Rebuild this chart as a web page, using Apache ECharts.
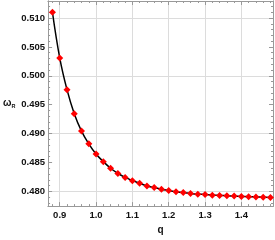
<!DOCTYPE html>
<html><head><meta charset="utf-8">
<script src="https://cdn.jsdelivr.net/npm/echarts@6/dist/echarts.min.js"></script>
<style>html,body{margin:0;padding:0;background:#fff}#c{width:275px;height:240px}</style>
</head><body><div id="c"></div>
<script>
const qValues = [0.88,0.90,0.92,0.94,0.96,0.98,1.00,1.02,1.04,1.06,1.08,1.10,1.12,1.14,1.16,1.18,1.20,1.22,1.24,1.26,1.28,1.30,1.32,1.34,1.36,1.38,1.40,1.42,1.44,1.46,1.48];
const omegaR = [0.5110,0.5031,0.4976,0.49345,0.49043,0.48822,0.48646,0.48514,0.48400,0.48310,0.48241,0.48185,0.48139,0.48093,0.48066,0.48037,0.48014,0.47991,0.47980,0.47963,0.47951,0.47945,0.47934,0.47929,0.47922,0.47917,0.47912,0.47907,0.47903,0.47899,0.47895];
const xTicks = [0.9,1.0,1.1,1.2,1.3,1.4];
const yTicks = [0.480,0.485,0.490,0.495,0.500,0.505,0.510];
const xTickLabels = ['0.9','1.0','1.1','1.2','1.3','1.4'];
const yTickLabels = ['0.480','0.485','0.490','0.495','0.500','0.505','0.510'];
const xRange = [0.868, 1.487];
const yRange = [0.47744, 0.51295];
const xMinor = []; for (let i = 44; i <= 74; i++) { if (i % 5) xMinor.push(+(i*0.02).toFixed(2)); }
const yMinor = []; for (let i = 478; i <= 512; i++) { if (i % 5) yMinor.push(+(i*0.001).toFixed(3)); }

const frameColor = '#999';
const font = {fontFamily: 'Liberation Sans', fontSize: 9.5, fontWeight: 'bold', color: '#111'};
function mkAxis(type, pos, range, ticks, isMinor, labels) {
  return {
    type: 'value', position: pos, min: range[0], max: range[1],
    axisLine: {show: true, onZero: false, lineStyle: {color: frameColor, width: 1}},
    axisTick: {show: true, inside: true, length: isMinor ? 2 : 4, customValues: ticks, lineStyle: {color: frameColor}},
    axisLabel: {show: !!labels, customValues: ticks, margin: type === 'x' ? 4 : 3,
      formatter: labels ? (v => { const i = ticks.findIndex(t => Math.abs(t - v) < 1e-9); return i >= 0 ? labels[i] : ''; }) : '', ...font},
    splitLine: {show: false},
    minorTick: {show: false}, minorSplitLine: {show: false}
  };
}
const xAxes = [
  Object.assign(mkAxis('x','bottom',xRange,xTicks,false,xTickLabels), {name:'q', nameLocation:'middle', nameGap: 11, nameTextStyle: {...font, fontSize: 10}}),
  mkAxis('x','bottom',xRange,xMinor,true,null),
  mkAxis('x','top',xRange,xTicks,false,null),
  mkAxis('x','top',xRange,xMinor,true,null)
];
const yAxes = [
  Object.assign(mkAxis('y','left',yRange,yTicks,false,yTickLabels), {name:'{w|ω}{s|R}', nameLocation:'middle', nameRotate: 0, nameGap: 30,
    nameTextStyle: {rich: {w: {fontFamily:'Liberation Sans', fontSize: 10, fontWeight:'bold', color:'#111'}, s: {fontFamily:'Liberation Sans', fontSize: 5.5, fontWeight:'bold', color:'#111', padding:[6,0,0,0]}}}}),
  mkAxis('y','left',yRange,yMinor,true,null),
  mkAxis('y','right',yRange,yTicks,false,null),
  mkAxis('y','right',yRange,yMinor,true,null)
];
const gridLines = xTicks.map(v => ({xAxis: v})).concat(yTicks.map(v => ({yAxis: v})));
const chart = echarts.init(document.getElementById('c'), null, {renderer: 'canvas'});
chart.setOption({
  animation: false,
  grid: {left: 43, right: 2, top: 1, bottom: 32, containLabel: false},
  xAxis: xAxes,
  yAxis: yAxes,
  series: [{
    type: 'line', xAxisIndex: 0, yAxisIndex: 0, z: 0,
    data: [],
    markLine: {silent: true, z: 0, symbol: ['none','none'], label: {show: false}, animation: false,
      lineStyle: {color: '#dcdcdc', width: 1, type: 'solid'}, emphasis: {disabled: true}, data: gridLines}
  }, {
    type: 'line', xAxisIndex: 0, yAxisIndex: 0, z: 3,
    data: qValues.map((q, i) => [q, omegaR[i]]),
    smooth: 0.4,
    lineStyle: {color: '#000', width: 1.5},
    symbol: 'diamond', symbolSize: 7, showAllSymbol: true,
    itemStyle: {color: '#ff0000'}
  }]
});
</script></body></html>
